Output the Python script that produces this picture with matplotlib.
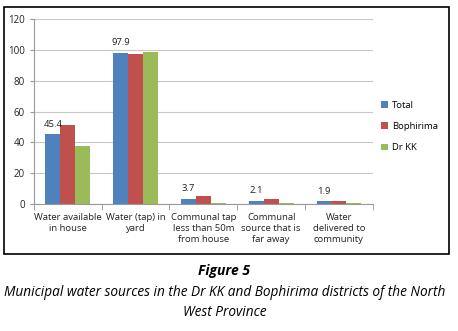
import numpy as np
import matplotlib.pyplot as plt
from matplotlib.patches import Rectangle

categories = ["Water available\nin house", "Water (tap) in\nyard",
              "Communal tap\nless than 50m\nfrom house",
              "Communal\nsource that is\nfar away",
              "Water\ndelivered to\ncommunity"]
total = [45.4, 97.9, 3.7, 2.1, 1.9]
bophirima = [51.2, 97.0, 5.4, 3.4, 2.0]
drkk = [37.6, 98.4, 1.0, 0.5, 1.0]
labels_total = ["45.4", "97.9", "3.7", "2.1", "1.9"]

plt.rcParams['font.family'] = ['Open Sans', 'DejaVu Sans']

fig = plt.figure(figsize=(4.58, 3.31), dpi=100)
ax = fig.add_axes([0.074, 0.383, 0.74, 0.56])

x = np.arange(len(categories))
w = 0.22
b1 = ax.bar(x - w, total, w, color='#4F81BD', label='Total')
ax.bar(x, bophirima, w, color='#C0504D', label='Bophirima')
ax.bar(x + w, drkk, w, color='#9BBB59', label='Dr KK')

for rect, lab in zip(b1, labels_total):
    ax.annotate(lab, (rect.get_x() + rect.get_width() / 2, rect.get_height()),
                xytext=(0, 4), textcoords='offset points', ha='center',
                va='bottom', fontsize=6.8, color='#222222')

ax.set_xlim(-0.5, len(categories) - 0.5)
ax.set_ylim(0, 120)
ax.set_yticks(range(0, 121, 20))
ax.yaxis.grid(True, color='#c8c8c8', linewidth=0.8)
ax.set_axisbelow(True)
ax.set_xticks(x)
ax.set_xticklabels(categories, fontsize=6.8, color='#222222', linespacing=1.3)
ax.set_xticks(np.arange(-0.5, len(categories), 1), minor=True)
ax.tick_params(axis='x', which='major', length=0, pad=6)
ax.tick_params(axis='x', which='minor', length=4, color='#999999')
ax.tick_params(axis='y', length=3, color='#999999', labelsize=7, labelcolor='#222222')
for s in ['top', 'right']:
    ax.spines[s].set_visible(False)
for s in ['left', 'bottom']:
    ax.spines[s].set_color('#999999')

ax.legend(loc='center left', bbox_to_anchor=(1.0, 0.42), frameon=False,
          fontsize=6.8, handlelength=0.7, handleheight=0.7, labelspacing=1.3,
          handletextpad=0.4)

fig.patches.append(Rectangle((4 / 458, 1 - 254 / 331), 445 / 458, 247 / 331,
                             transform=fig.transFigure, fill=False,
                             edgecolor='black', linewidth=1.2))

fig.text(0.49, 1 - 271 / 331, "Figure 5", ha='center', va='center',
         fontsize=10, style='italic', weight='bold')
fig.text(0.49, 1 - 293 / 331,
         "Municipal water sources in the Dr KK and Bophirima districts of the North",
         ha='center', va='center', fontsize=9.8, style='italic')
fig.text(0.49, 1 - 313 / 331, "West Province", ha='center', va='center',
         fontsize=9.8, style='italic')

fig.savefig('out.png', dpi=100)
